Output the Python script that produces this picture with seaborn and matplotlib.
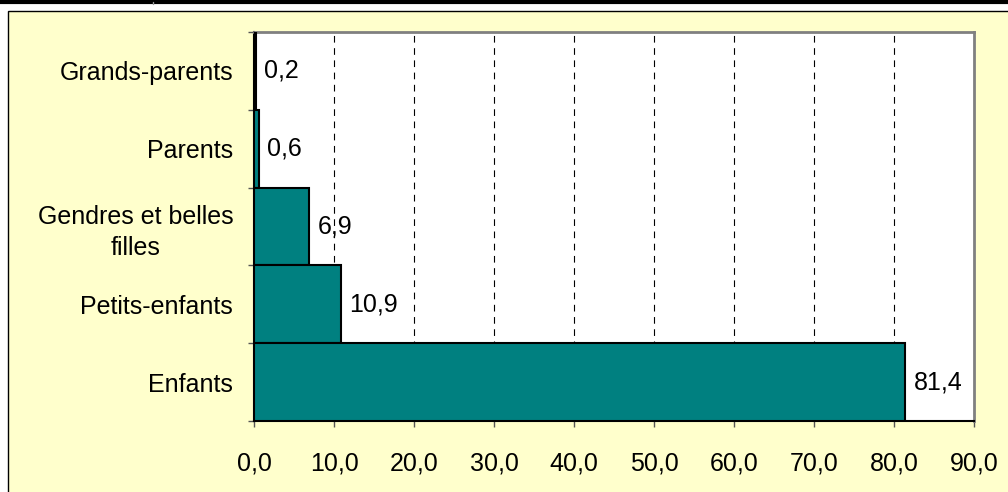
import matplotlib
matplotlib.use("Agg")
import matplotlib.pyplot as plt
from matplotlib.patches import Rectangle
from matplotlib.lines import Line2D
from matplotlib.ticker import FixedLocator
import seaborn as sns
import pandas as pd

categories = ['Grands-parents', 'Parents', 'Gendres et belles\nfilles', 'Petits-enfants', 'Enfants']
values = [0.2, 0.6, 6.9, 10.9, 81.4]
xticks = [0, 10, 20, 30, 40, 50, 60, 70, 80, 90]

df = pd.DataFrame({'cat': categories, 'val': values})

sns.set_style("white")
plt.rcParams['font.family'] = ['Liberation Sans', 'DejaVu Sans']
plt.rcParams['text.color'] = 'black'
plt.rcParams['xtick.labelcolor'] = 'black'
plt.rcParams['ytick.labelcolor'] = 'black'
FS = 18

fig = plt.figure(figsize=(10.08, 4.92), dpi=100)
fig.patch.set_facecolor('white')
# yellow chart area with black frame
fig.patches.append(Rectangle((8 / 1008, -0.1), 1.1, (492 - 11) / 492 + 0.1, transform=fig.transFigure,
                             facecolor='#FFFFCC', edgecolor='black', linewidth=1, zorder=-10))
fig.lines.append(Line2D([0, 1], [1 - 1.5 / 492, 1 - 1.5 / 492], transform=fig.transFigure,
                        color='black', linewidth=3, zorder=-5))
fig.lines.append(Line2D([153 / 1008, 153 / 1008], [1 - 1.5 / 492, 1 - 4 / 492], transform=fig.transFigure,
                        color='#999999', linewidth=1, zorder=-5))

ax = fig.add_axes([254 / 1008, 1 - 421 / 492, (974 - 254) / 1008, (421 - 32) / 492])
ax.set_facecolor('white')

sns.barplot(data=df, x='val', y='cat', orient='h', color='#008080', width=1.0,
            edgecolor='black', linewidth=1.5, saturation=1, ax=ax, zorder=3)

ax.set_xlim(0, 90)
ax.set_ylim(4.5, -0.5)
ax.set_xticks(xticks)
ax.set_xticklabels([f"{t:.1f}".replace('.', ',') for t in xticks], fontsize=FS, color='black')
ax.set_yticks(range(len(categories)))
ax.set_yticklabels(categories, fontsize=FS, multialignment='center', linespacing=1.35, color='black')
ax.yaxis.set_minor_locator(FixedLocator([-0.5, 0.5, 1.5, 2.5, 3.5, 4.5]))

ax.tick_params(axis='x', which='major', direction='out', length=4, width=1, color='#555555', pad=18, bottom=True)
ax.tick_params(axis='y', which='major', length=0, pad=15)
ax.tick_params(axis='y', which='minor', direction='out', length=4, width=1, color='#555555', left=True)

for x in xticks[1:-1]:
    ax.axvline(x, color='black', linestyle=(0, (6, 5)), linewidth=0.8, zorder=1)

ax.bar_label(ax.containers[0], labels=[f"{v:.1f}".replace('.', ',') for v in values],
             padding=6, fontsize=FS, color='black', zorder=4)

ax.set_xlabel('')
ax.set_ylabel('')
for side in ['top', 'right']:
    ax.spines[side].set_color('#808080')
    ax.spines[side].set_linewidth(2)
for side in ['left', 'bottom']:
    ax.spines[side].set_color('black')
    ax.spines[side].set_linewidth(1.5)
    ax.spines[side].set_visible(True)

fig.savefig('out.png', dpi=100, facecolor=fig.get_facecolor())
